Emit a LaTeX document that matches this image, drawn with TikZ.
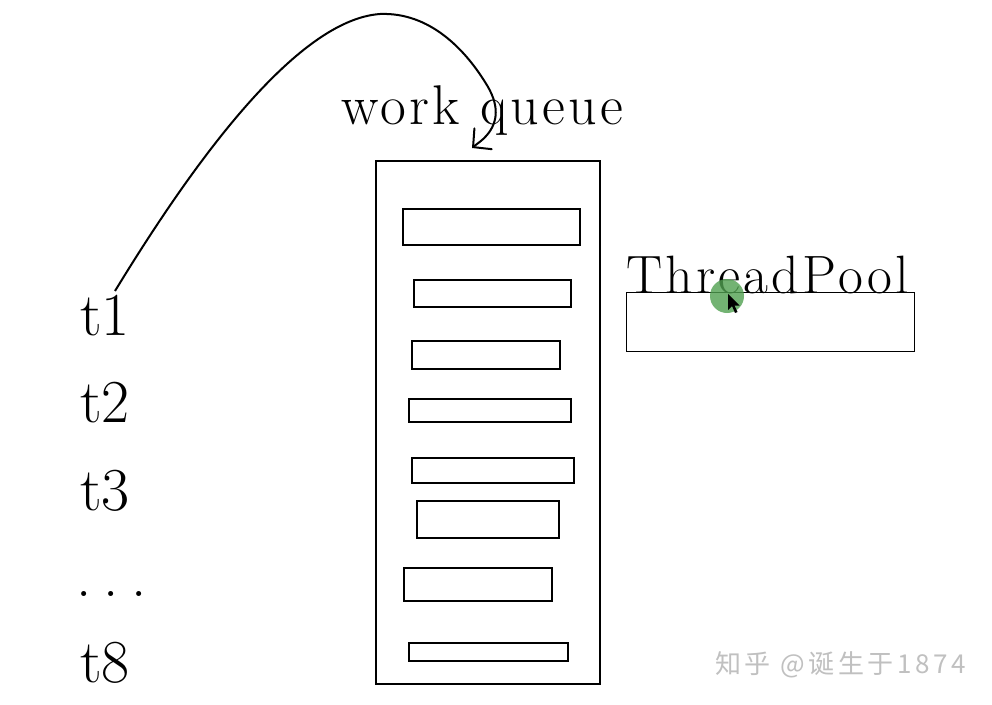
\documentclass[tikz,border=0pt]{standalone}
\usepackage{fontspec}
\newfontfamily\cjk{Noto Sans CJK SC}[LetterSpace=14]
\newfontfamily\spaced{Latin Modern Roman}[LetterSpace=6]
\usetikzlibrary{arrows.meta}
\definecolor{dotgreen}{RGB}{80,160,80}
\definecolor{wmgray}{RGB}{192,192,192}
\begin{document}
\begin{tikzpicture}[x=1pt,y=-1pt,
  qbox/.style={draw=black, line width=2.4pt, inner sep=0pt, anchor=north west},
  pbox/.style={draw=black, line width=1.2pt, inner sep=0pt, anchor=north west},
  lbl/.style={inner sep=0pt, anchor=base west, font=\fontsize{61}{61}\selectfont},
  ttl/.style={inner sep=0pt, anchor=base west, font=\spaced\fontsize{56}{56}\selectfont},
  link/.style={line width=2pt, -{Straight Barb[length=13pt,width=27pt,line cap=round]}}
]
\useasboundingbox (0,0) rectangle (992,704);
\fill[white] (0,0) rectangle (992,704);

% work queue
\node[qbox, minimum width=224pt, minimum height=523pt] (queue) at (375,160) {};
\node[qbox, minimum width=177pt, minimum height=36pt] (r1) at (402,208) {};
\node[qbox, minimum width=157pt, minimum height=27pt] (r2) at (413,279) {};
\node[qbox, minimum width=148pt, minimum height=28pt] (r3) at (411,340) {};
\node[qbox, minimum width=162pt, minimum height=23pt] (r4) at (408,398) {};
\node[qbox, minimum width=162pt, minimum height=25pt] (r5) at (411,457) {};
\node[qbox, minimum width=142pt, minimum height=37pt] (r6) at (416,500) {};
\node[qbox, minimum width=148pt, minimum height=33pt] (r7) at (403,567) {};
\node[qbox, minimum width=159pt, minimum height=18pt] (r8) at (408,642) {};

\node[ttl] (wq) at (341,124) {work queue};

% thread pool
\node[pbox, minimum width=288pt, minimum height=59pt] (pool) at (626,292) {};
\node[ttl, font=\spaced\fontsize{54}{54}\selectfont] (tp) at (626,293) {ThreadPool};

% threads
\node[lbl] (t1) at (80,335) {t1};
\node[lbl] (t2) at (80,422) {t2};
\node[lbl] (t3) at (80,510) {t3};
\node[lbl] (tdots) at (76,596) {.\hspace{12.3pt}.\hspace{12.3pt}.};
\node[lbl] (t8) at (80,682) {t8};

% curve from t1 into the queue
\coordinate (s) at (115,291);
\coordinate (e) at (472,148);
\draw[link] (s) .. controls (190,168) and (295,20) .. (380,14)
  .. controls (430,12) and (465,50) .. (485,82)
  .. controls (500,105) and (498,122) .. (487,135)
  .. controls (483,140) and (478,143) .. (e);

% pointer highlight
\fill[dotgreen, opacity=0.8] (727,296) circle[radius=17pt];
\fill[black] (728,294) -- ++(0,16) -- ++(4,-4) -- ++(3,7) -- ++(2.5,-1) -- ++(-3,-6.5) -- ++(5,0) -- cycle;

% watermark
\node[inner sep=0pt, anchor=base west, text=wmgray, font=\cjk\fontsize{26}{26}\selectfont] (wm) at (715,673) {知乎 @诞生于1874};
\end{tikzpicture}
\end{document}
